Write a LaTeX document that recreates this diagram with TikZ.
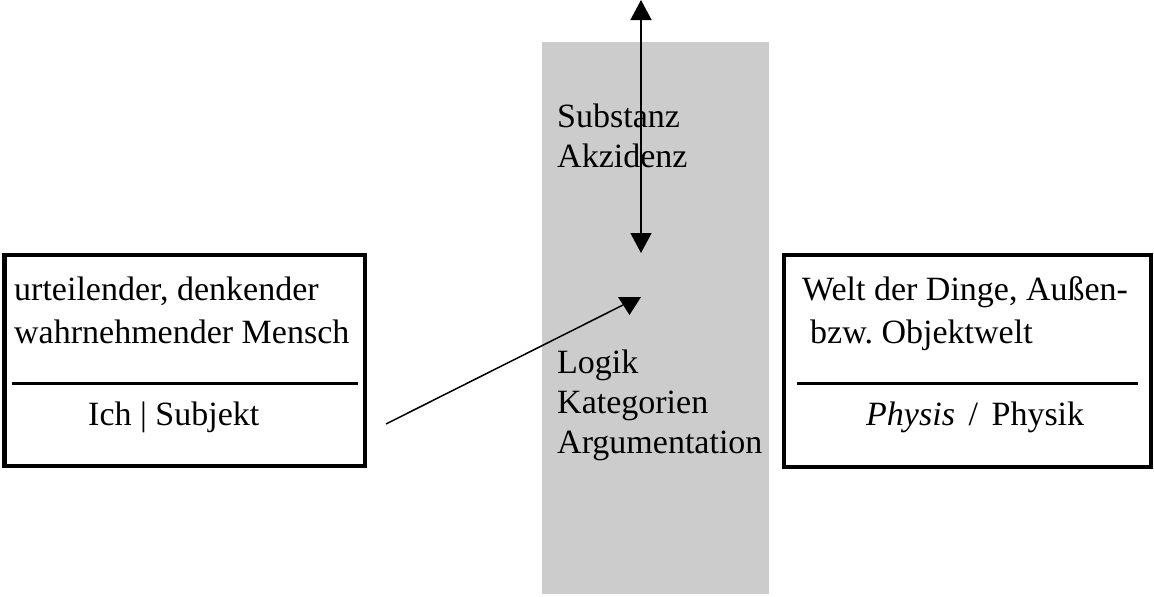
\documentclass[tikz,border=0pt]{standalone}
\usepackage{fontspec}
\setmainfont{Liberation Serif}
\usetikzlibrary{arrows.meta}
\definecolor{colgray}{HTML}{CCCCCC}
\begin{document}
\begin{tikzpicture}[x=1pt,y=-1pt,
  txt/.style={anchor=base west,inner sep=0pt,font=\fontsize{34}{40}\selectfont},
  box/.style={draw,line width=4.5pt,inner sep=0pt},
  sepline/.style={line width=3pt},
  conn/.style={line width=1.5pt}]
\useasboundingbox (0,0) rectangle (1154,597);
% gray column
\node[fill=colgray,inner sep=0pt,minimum width=227pt,minimum height=552pt,anchor=north west] (col) at (542,42) {};
% boxes
\node[box,minimum width=360.5pt,minimum height=211pt] (lbox) at (184.75,360.5) {};
\node[box,minimum width=367pt,minimum height=212pt] (rbox) at (967.5,361) {};
\draw[sepline] (12,383) -- (358,383);
\draw[sepline] (797,383) -- (1138,383);
% texts
\node[txt] (t1) at (14,300) {urteilender, denkender};
\node[txt] (t2) at (14,343) {wahrnehmender Mensch};
\node[txt] (t3) at (88,425) {Ich | Subjekt};
\node[txt] (t4) at (802,300) {Welt der Dinge, Außen-};
\node[txt] (t5) at (810,343) {bzw.\ Objektwelt};
\node[txt] (t6) at (866,425) {\textit{Physis}\hspace{0.4em}/\hspace{0.4em}Physik};
\node[txt] (t7) at (557,127) {Substanz};
\node[txt] (t8) at (557,167) {Akzidenz};
\node[txt] (t9) at (557,373) {Logik};
\node[txt] (t10) at (557,413) {Kategorien};
\node[txt] (t11) at (557,453) {Argumentation};
% vertical double arrow
\coordinate (vtop) at (641,0);
\coordinate (vbot) at (641,253);
\draw[conn,{Triangle[width=21pt,length=20pt]}-{Triangle[width=21pt,length=20pt]}] (vtop) -- (vbot);
% diagonal connector
\coordinate (dstart) at (386,424);
\coordinate (dend) at (623,305);
\draw[conn] (dstart) -- (dend);
\fill (618,297) -- (641,297) -- (629.5,315) -- cycle;
\end{tikzpicture}
\end{document}
